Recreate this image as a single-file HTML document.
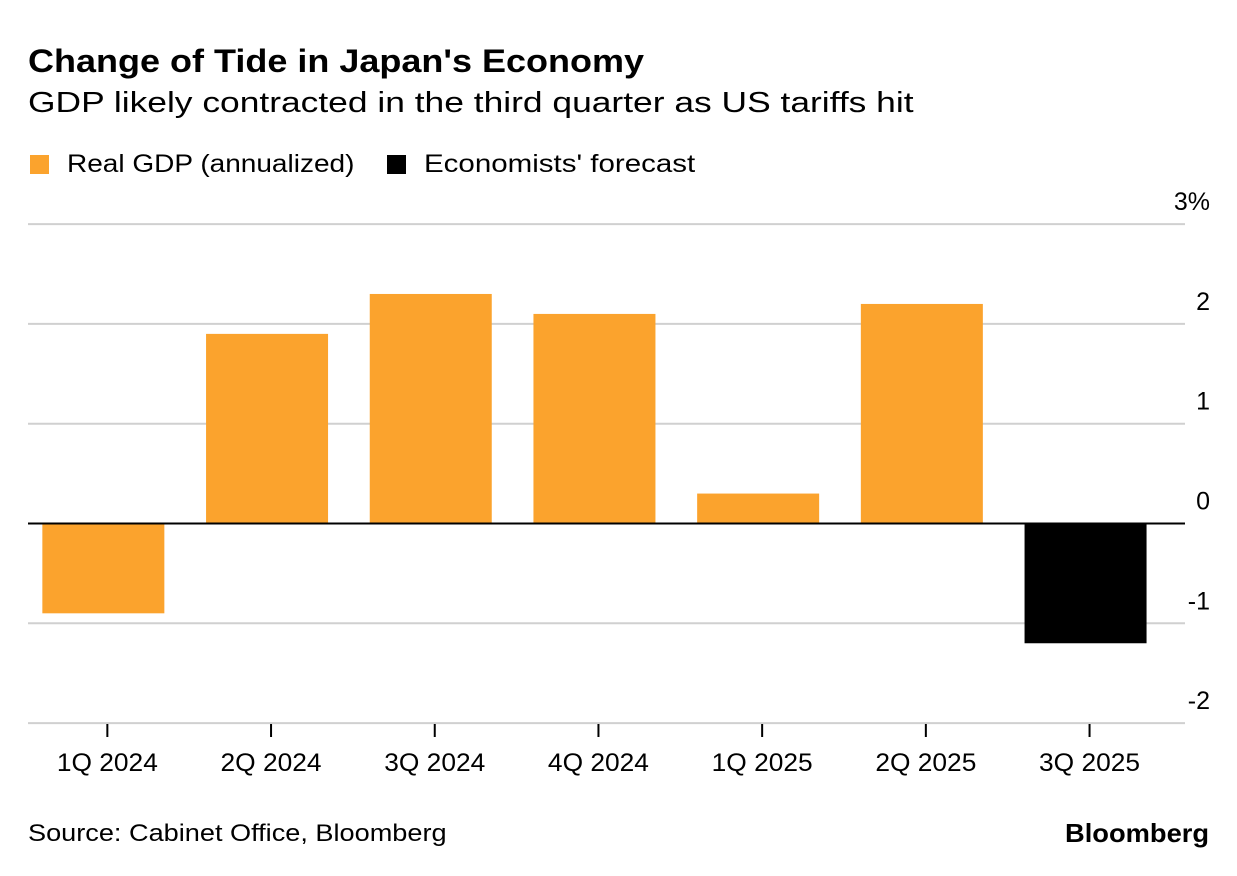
<!DOCTYPE html>
<html><head><meta charset="utf-8"><style>
body{margin:0;background:#fff;width:1237px;height:876px;overflow:hidden;font-family:"Liberation Sans",sans-serif;color:#000}
.t{position:absolute;white-space:nowrap;transform-origin:left center}
</style></head><body>
<div class="t" style="left:28px;top:43px;font-size:32px;font-weight:bold;transform:scaleX(1.125)">Change of Tide in Japan's Economy</div>
<div class="t" style="left:28px;top:87px;font-size:29px;transform:scaleX(1.22)">GDP likely contracted in the third quarter as US tariffs hit</div>
<div class="t" style="left:30px;top:150px;font-size:25px"><span style="display:inline-block;width:19px;height:19px;background:#fba32d;vertical-align:-2px;margin-right:18px"></span><span style="display:inline-block;transform:scaleX(1.12);transform-origin:left center">Real GDP (annualized)</span></div>
<div class="t" style="left:387px;top:150px;font-size:25px"><span style="display:inline-block;width:19px;height:19px;background:#000;vertical-align:-2px;margin-right:18px"></span><span style="display:inline-block;transform:scaleX(1.18);transform-origin:left center">Economists' forecast</span></div>
<svg id="chart" width="1237" height="876" style="position:absolute;left:0;top:0"></svg>
<div class="t" style="left:28px;top:820px;font-size:24px;transform:scaleX(1.13)">Source: Cabinet Office, Bloomberg</div>
<div class="t" style="left:1065px;top:818px;font-size:26px;font-weight:bold;transform:scaleX(1.05)">Bloomberg</div>
<script>
const categories=["1Q 2024","2Q 2024","3Q 2024","4Q 2024","1Q 2025","2Q 2025","3Q 2025"];
const values=[-0.9,1.9,2.3,2.1,0.3,2.2,-1.2];
const forecast=[false,false,false,false,false,false,true];
const yTicks=[3,2,1,0,-1,-2];
const yTickLabels=["3%","2","1","0","-1","-2"];
const svg=document.getElementById('chart');
const NS='http://www.w3.org/2000/svg';
const y=v=>523.5-v*99.8;
const step=163.7,x0=21.5;
const xc=i=>x0+step*(i+0.5);
function mk(t,a){const e=document.createElementNS(NS,t);for(const k in a)e.setAttribute(k,a[k]);svg.appendChild(e);return e;}
yTicks.forEach((v,i)=>{
  if(v!==0){const g=mk('line',{x1:28,x2:1185,y1:y(v),y2:y(v),stroke:'#d0d0d0','stroke-width':2});
  
  }
  const t=mk('text',{x:1210,y:y(v)-14,'text-anchor':'end','font-size':25,'font-family':'Liberation Sans, sans-serif'});
  t.textContent=yTickLabels[i];
  
  
});
values.forEach((v,i)=>{
  const w=122;
  const r=mk('rect',{x:xc(i)-w/2,y:Math.min(y(v),y(0)),width:w,height:Math.abs(y(v)-y(0)),fill:forecast[i]?'#000':'#fba32d'});
  
  
  const tk=mk('line',{x1:xc(i)+4,x2:xc(i)+4,y1:724,y2:737,stroke:'#000','stroke-width':2});
  
  
  const t=mk('text',{x:xc(i)+4,y:771,'text-anchor':'middle','font-size':25,'textLength':101,'lengthAdjust':'spacingAndGlyphs','font-family':'Liberation Sans, sans-serif'});
  t.textContent=categories[i];
  
  
});
const z=mk('line',{x1:28,x2:1185,y1:y(0),y2:y(0),stroke:'#000','stroke-width':2});


</script>
</body></html>
